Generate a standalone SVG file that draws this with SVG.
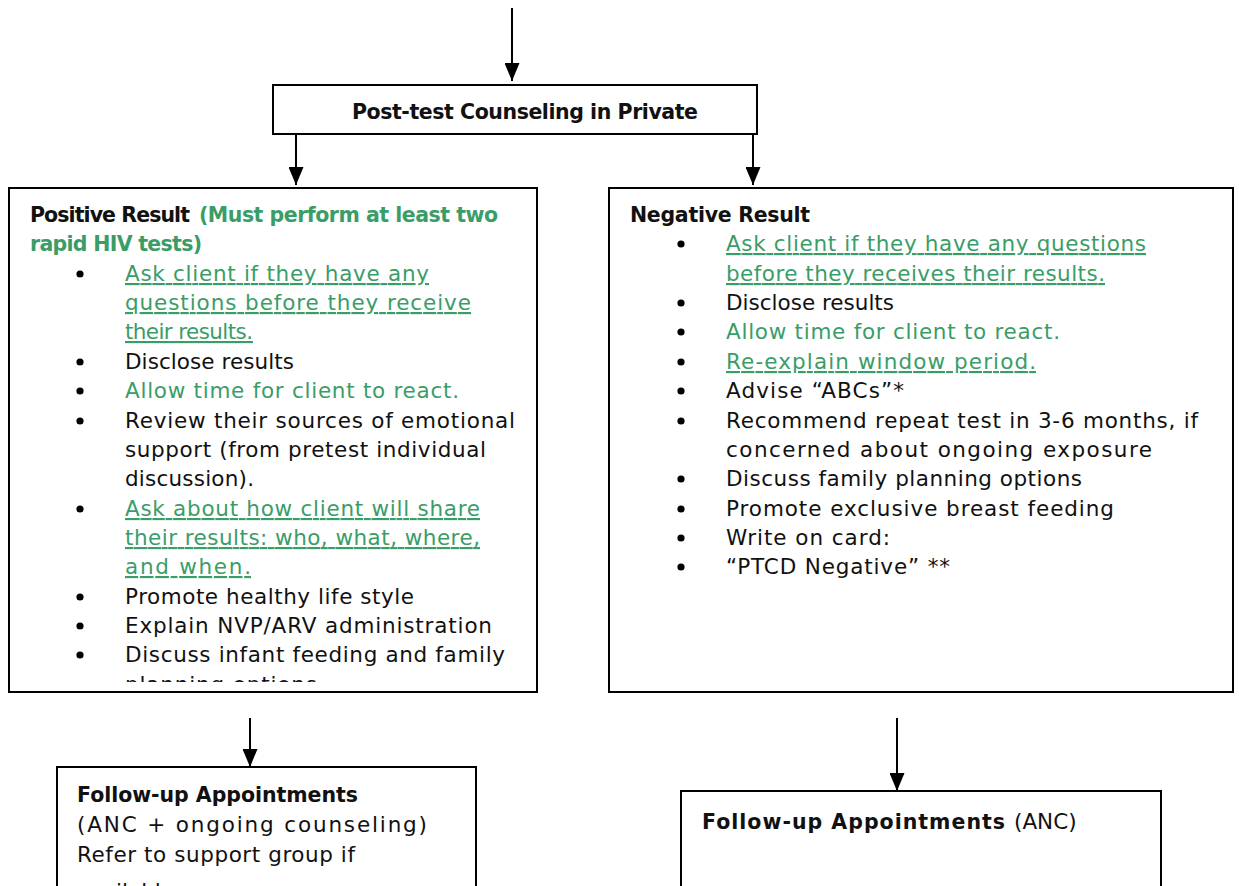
<svg xmlns="http://www.w3.org/2000/svg" width="1239" height="886" viewBox="0 0 1239 886">
<style>
.box{fill:#fff;stroke:#000;stroke-width:2}
.t{font-family:"DejaVu Sans",sans-serif;font-size:21.5px;fill:#111}
.b{font-weight:bold;font-size:20.5px}
.g{fill:#3a9d68}
.u{text-decoration:underline}
.edge{stroke:#000;stroke-width:2;fill:none}
</style>
<defs>
<marker id="ah" markerWidth="18" markerHeight="15" refX="18" refY="7.5" orient="auto" markerUnits="userSpaceOnUse" viewBox="0 0 18 15">
<path d="M0,0 L18,7.5 L0,15 Z" fill="#000"/>
</marker>
<clipPath id="cTop"><rect x="274" y="86" width="482" height="37"/></clipPath>
<clipPath id="cPos"><rect x="10" y="189" width="526" height="493"/></clipPath>
<clipPath id="cNeg"><rect x="610" y="189" width="622" height="502"/></clipPath>
</defs>

<g id="connectors">
<line class="edge" x1="512" y1="8" x2="512" y2="81" marker-end="url(#ah)"/>
<line class="edge" x1="296" y1="134" x2="296" y2="185" marker-end="url(#ah)"/>
<line class="edge" x1="753" y1="134" x2="753" y2="185" marker-end="url(#ah)"/>
<line class="edge" x1="250" y1="718" x2="250" y2="767" marker-end="url(#ah)"/>
<line class="edge" x1="897" y1="718" x2="897" y2="791" marker-end="url(#ah)"/>
</g>

<g id="post-test">
<rect class="box" x="273" y="85" width="484" height="49"/>
<text class="t b" x="352" y="119" font-size="18.5" textLength="346" clip-path="url(#cTop)">Post-test Counseling in Private</text>
</g>

<g id="positive">
<rect class="box" x="9" y="188" width="528" height="504"/>
<g clip-path="url(#cPos)">
<text class="t b" x="30" y="222" textLength="160">Positive Result</text>
<text class="t b g" x="199" y="222" textLength="299">(Must perform at least two</text>
<text class="t b g" x="30" y="251" textLength="172">rapid HIV tests)</text>
<g fill="#000">
<circle cx="80" cy="274" r="3.6"/>
<circle cx="80" cy="362" r="3.6"/>
<circle cx="80" cy="391" r="3.6"/>
<circle cx="80" cy="421" r="3.6"/>
<circle cx="80" cy="509" r="3.6"/>
<circle cx="80" cy="597" r="3.6"/>
<circle cx="80" cy="626" r="3.6"/>
<circle cx="80" cy="655" r="3.6"/>
</g>
<text class="t g u" x="125" y="281" textLength="304">Ask client if they have any</text>
<text class="t g u" x="125" y="310" textLength="346">questions before they receive</text>
<text class="t g u" x="125" y="339" textLength="128">their results.</text>
<text class="t" x="125" y="369" textLength="169">Disclose results</text>
<text class="t g" x="125" y="398" textLength="334">Allow time for client to react.</text>
<text class="t" x="125" y="428" textLength="390">Review their sources of emotional</text>
<text class="t" x="125" y="457" textLength="361">support (from pretest individual</text>
<text class="t" x="125" y="486" textLength="129">discussion).</text>
<text class="t g u" x="125" y="516" textLength="355">Ask about how client will share</text>
<text class="t g u" x="125" y="545" textLength="355">their results: who, what, where,</text>
<text class="t g u" x="125" y="574" textLength="126">and when.</text>
<text class="t" x="125" y="604" textLength="289">Promote healthy life style</text>
<text class="t" x="125" y="633" textLength="367">Explain NVP/ARV administration</text>
<text class="t" x="125" y="662" textLength="380">Discuss infant feeding and family</text>
<text class="t" x="125" y="692" textLength="192">planning options</text>
</g>
</g>

<g id="negative">
<rect class="box" x="609" y="188" width="624" height="504"/>
<g clip-path="url(#cNeg)">
<text class="t b" x="630" y="222" textLength="180">Negative Result</text>
<g fill="#000">
<circle cx="681" cy="244" r="3.6"/>
<circle cx="681" cy="303" r="3.6"/>
<circle cx="681" cy="332" r="3.6"/>
<circle cx="681" cy="362" r="3.6"/>
<circle cx="681" cy="391" r="3.6"/>
<circle cx="681" cy="421" r="3.6"/>
<circle cx="681" cy="479" r="3.6"/>
<circle cx="681" cy="509" r="3.6"/>
<circle cx="681" cy="538" r="3.6"/>
<circle cx="681" cy="567" r="3.6"/>
</g>
<text class="t g u" x="726" y="251" textLength="420">Ask client if they have any questions</text>
<text class="t g u" x="726" y="281" textLength="379">before they receives their results.</text>
<text class="t" x="726" y="310" textLength="168">Disclose results</text>
<text class="t g" x="726" y="339" textLength="334">Allow time for client to react.</text>
<text class="t g u" x="726" y="369" textLength="310">Re-explain window period.</text>
<text class="t" x="726" y="398" textLength="178">Advise “ABCs”*</text>
<text class="t" x="726" y="428" textLength="472">Recommend repeat test in 3-6 months, if</text>
<text class="t" x="726" y="457" textLength="426">concerned about ongoing exposure</text>
<text class="t" x="726" y="486" textLength="356">Discuss family planning options</text>
<text class="t" x="726" y="516" textLength="388">Promote exclusive breast feeding</text>
<text class="t" x="726" y="545" textLength="164">Write on card:</text>
<text class="t" x="726" y="574" textLength="224">“PTCD Negative” **</text>
</g>
</g>

<g id="followup-pos">
<rect class="box" x="57" y="767" width="419" height="130"/>
<text class="t b" x="77" y="802" textLength="281">Follow-up Appointments</text>
<text class="t" x="77" y="832" font-size="22" textLength="350">(ANC + ongoing counseling)</text>
<text class="t" x="77" y="862" font-size="21.5" textLength="278">Refer to support group if</text>
<text class="t" x="77" y="899" font-size="21.5">available</text>
</g>

<g id="followup-neg">
<rect class="box" x="681" y="791" width="480" height="110"/>
<text class="t b" x="702" y="829" font-size="23" textLength="303">Follow-up Appointments</text>
<text class="t" x="1014" y="829" font-size="23">(ANC)</text>
</g>
</svg>
